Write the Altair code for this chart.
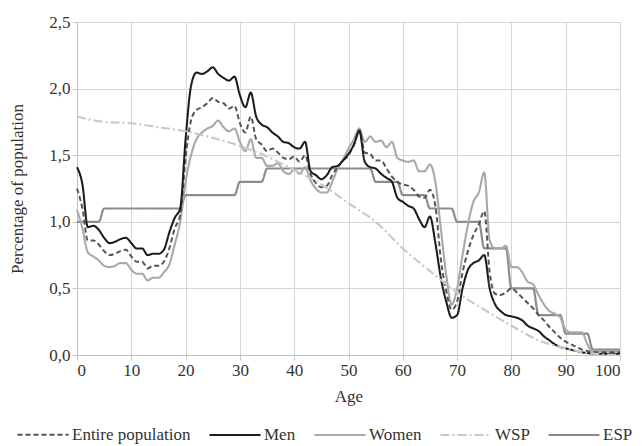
import altair as alt
import pandas as pd

ages = list(range(0, 101))

men = [1.41, 1.28, 0.96, 0.97, 0.94, 0.88, 0.84, 0.85, 0.87, 0.88,
       0.84, 0.80, 0.80, 0.75, 0.76, 0.76, 0.79, 0.92, 1.03, 1.10,
       1.62, 2.02, 2.12, 2.11, 2.13, 2.16, 2.11, 2.08, 2.06, 2.09,
       1.95, 1.86, 1.97, 1.79, 1.73, 1.71, 1.67, 1.64, 1.60, 1.59,
       1.56, 1.55, 1.60, 1.38, 1.35, 1.32, 1.35, 1.41, 1.42, 1.46,
       1.51, 1.58, 1.68, 1.45, 1.41, 1.40, 1.36, 1.33, 1.30, 1.18,
       1.15, 1.12, 1.10, 1.02, 0.96, 1.04, 0.84, 0.58, 0.40, 0.28,
       0.30, 0.50, 0.64, 0.69, 0.71, 0.75, 0.50, 0.38, 0.33, 0.30,
       0.29, 0.28, 0.26, 0.22, 0.20, 0.18, 0.14, 0.11, 0.08, 0.06,
       0.05, 0.04, 0.03, 0.02, 0.015, 0.01, 0.01, 0.01, 0.01, 0.01, 0.01]

women = [1.09, 0.95, 0.77, 0.74, 0.71, 0.67, 0.66, 0.67, 0.69, 0.69,
         0.64, 0.61, 0.61, 0.56, 0.58, 0.58, 0.62, 0.68, 0.83, 1.00,
         1.30, 1.50, 1.62, 1.67, 1.70, 1.72, 1.76, 1.71, 1.68, 1.70,
         1.60, 1.53, 1.62, 1.48, 1.48, 1.42, 1.42, 1.44, 1.38, 1.36,
         1.39, 1.36, 1.41, 1.31, 1.25, 1.22, 1.22, 1.30, 1.40, 1.47,
         1.55, 1.62, 1.70, 1.60, 1.64, 1.60, 1.61, 1.56, 1.60, 1.48,
         1.46, 1.45, 1.46, 1.38, 1.38, 1.43, 1.30, 0.95, 0.60, 0.38,
         0.50, 0.75, 0.98, 1.15, 1.22, 1.37, 0.86, 0.80, 0.80, 0.82,
         0.66, 0.66, 0.62, 0.55, 0.53, 0.45, 0.38, 0.33, 0.31, 0.28,
         0.19, 0.17, 0.17, 0.17, 0.08, 0.03, 0.03, 0.03, 0.03, 0.03, 0.03]

entire = [1.25, 1.10, 0.86, 0.86, 0.83, 0.78, 0.75, 0.76, 0.78, 0.79,
          0.74, 0.70, 0.70, 0.65, 0.67, 0.67, 0.70, 0.80, 0.95, 1.05,
          1.48, 1.76, 1.84, 1.86, 1.89, 1.93, 1.90, 1.89, 1.85, 1.87,
          1.74, 1.67, 1.79, 1.62, 1.58, 1.53, 1.55, 1.52, 1.48, 1.47,
          1.49, 1.45, 1.50, 1.36, 1.29, 1.26, 1.27, 1.35, 1.41, 1.46,
          1.50, 1.58, 1.69, 1.52, 1.51, 1.46, 1.46, 1.40, 1.34, 1.30,
          1.28, 1.27, 1.24, 1.19, 1.18, 1.24, 1.12, 0.72, 0.48, 0.34,
          0.40, 0.62, 0.78, 0.90, 0.98, 1.08, 0.62, 0.46, 0.45, 0.47,
          0.50, 0.47, 0.43, 0.39, 0.35, 0.30, 0.26, 0.21, 0.17, 0.13,
          0.10, 0.08, 0.06, 0.04, 0.03, 0.02, 0.02, 0.02, 0.02, 0.02, 0.02]

esp = [1.0, 1.0, 1.0, 1.0, 1.0, 1.1, 1.1, 1.1, 1.1, 1.1,
       1.1, 1.1, 1.1, 1.1, 1.1, 1.1, 1.1, 1.1, 1.1, 1.1,
       1.2, 1.2, 1.2, 1.2, 1.2, 1.2, 1.2, 1.2, 1.2, 1.2,
       1.3, 1.3, 1.3, 1.3, 1.3, 1.4, 1.4, 1.4, 1.4, 1.4,
       1.4, 1.4, 1.4, 1.4, 1.4, 1.4, 1.4, 1.4, 1.4, 1.4,
       1.4, 1.4, 1.4, 1.4, 1.4, 1.3, 1.3, 1.3, 1.3, 1.3,
       1.2, 1.2, 1.2, 1.2, 1.2, 1.1, 1.1, 1.1, 1.1, 1.1,
       1.0, 1.0, 1.0, 1.0, 1.0, 0.8, 0.8, 0.8, 0.8, 0.8,
       0.5, 0.5, 0.5, 0.5, 0.5, 0.3, 0.3, 0.3, 0.3, 0.3,
       0.16, 0.16, 0.16, 0.16, 0.16, 0.04, 0.04, 0.04, 0.04, 0.04, 0.04]

wsp_ages = [0, 5, 10, 15, 20, 25, 30, 35, 40, 45, 50, 55, 60, 65, 70, 75, 80, 85, 90, 95, 100]
wsp = [1.79, 1.75, 1.74, 1.71, 1.68, 1.63, 1.57, 1.49, 1.39, 1.28, 1.14, 1.00, 0.80, 0.63, 0.47, 0.34, 0.22, 0.11, 0.05, 0.01, 0.0]

series_names = ["Entire population", "Men", "Women", "WSP", "ESP"]
series_colors = ["#555555", "#1c1c1c", "#a9a9a9", "#c9c9c9", "#8c8c8c"]
series_dash = [[5, 3], [1, 0], [1, 0], [9, 3, 2, 3], [1, 0]]
series_width = [2.0, 2.2, 2.0, 2.0, 1.6]
y_ticks = [0, 0.5, 1.0, 1.5, 2.0, 2.5]
x_ticks = [0, 10, 20, 30, 40, 50, 60, 70, 80, 90, 100]

rows = []
for name, vals in [("ESP", esp), ("Women", women), ("Entire population", entire), ("Men", men)]:
    for a, v in zip(ages, vals):
        rows.append({"age": a, "value": v, "series": name})
for a, v in zip(wsp_ages, wsp):
    rows.append({"age": a, "value": v, "series": "WSP"})
df = pd.DataFrame(rows)
order_map = {"ESP": 0, "WSP": 1, "Women": 2, "Entire population": 3, "Men": 4}
df["ord"] = df["series"].map(order_map)

FONT = "Liberation Serif"

chart = alt.Chart(df).mark_line(interpolate="monotone").encode(
    x=alt.X("age:Q", title="Age",
            scale=alt.Scale(domain=[0, 100], nice=False),
            axis=alt.Axis(values=x_ticks, format="d")),
    y=alt.Y("value:Q", title="Percentage of population",
            scale=alt.Scale(domain=[0, 2.5], nice=False),
            axis=alt.Axis(values=y_ticks,
                          labelExpr="replace(format(datum.value, '.1f'), '.', ',')")),
    color=alt.Color("series:N", title=None,
                    scale=alt.Scale(domain=series_names, range=series_colors),
                    legend=alt.Legend(orient="none", legendX=-61, legendY=386,
                                      direction="horizontal", columns=5,
                                      labelFont=FONT)),
    strokeDash=alt.StrokeDash("series:N", title=None,
                              scale=alt.Scale(domain=series_names, range=series_dash)),
    strokeWidth=alt.StrokeWidth("series:N", title=None,
                                scale=alt.Scale(domain=series_names, range=series_width)),
    order=alt.Order("ord:Q"),
    detail="series:N",
).properties(
    width=543, height=333,
    autosize=alt.AutoSizeParams(type="none"),
    padding={"left": 69, "top": 14, "right": 15, "bottom": 91},
).configure(
    font=FONT
).configure_view(
    stroke="#c8c8c8", strokeWidth=1
).configure_axis(
    labelFont=FONT, titleFont=FONT, labelFontSize=17, titleFontSize=17,
    labelColor="#333333", titleColor="#333333", titleFontWeight="normal",
    gridColor="#d6d6d6", gridWidth=1, domainColor="#c0c0c0",
    tickColor="#c8c8c8", tickSize=5, labelPadding=2
).configure_axisX(
    titlePadding=10
).configure_axisY(
    titlePadding=22
).configure_legend(
    labelFont=FONT, labelFontSize=17, labelColor="#333333",
    symbolType="stroke", symbolSize=2601, labelOffset=2,
    columnPadding=14, padding=0, rowPadding=0
)

chart.save("out.html", embed_options={"renderer": "svg", "actions": False})
